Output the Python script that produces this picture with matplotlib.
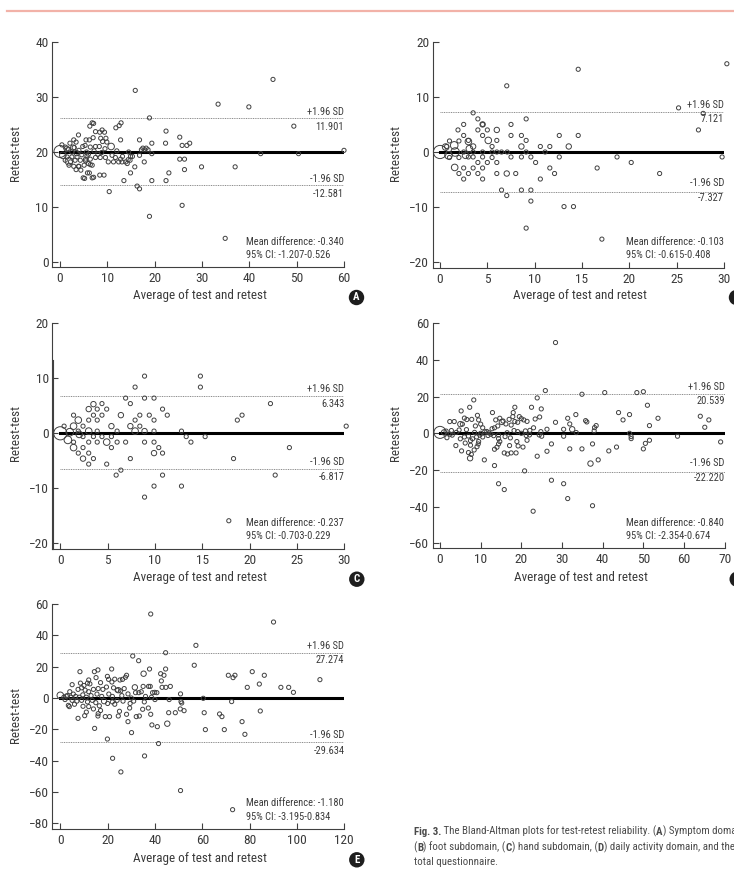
import numpy as np
import matplotlib
matplotlib.use("Agg")
import matplotlib.pyplot as plt
from matplotlib.lines import Line2D

plt.rcParams['font.family'] = ['Roboto Condensed', 'DejaVu Sans']

W, H = 734, 893
TXT = '#3a3a3a'
EDGE = '#404040'

# ---- data (x = average, y = retest-test) ----
a_points = [(45.0, 33.2), (15.9, 31.2), (33.4, 28.7), (39.9, 28.2), (18.9, 26.2), (49.4, 24.7),
            (6.3, 24.7), (6.8, 25.3), (12.9, 25.3), (12.5, 24.8), (11.8, 24.4), (22.4, 23.8),
            (25.3, 22.7), (16.8, 22.2), (12.8, 22.2), (22.3, 21.6), (19.4, 21.6), (27.4, 21.6),
            (26.8, 21.2), (25.8, 21.2), (17.5, 20.7), (18.2, 20.7), (42.4, 19.7), (50.4, 19.7),
            (60.0, 20.3), (19.4, 19.7), (25.3, 18.7), (26.3, 18.7), (29.9, 17.3), (37.0, 17.3),
            (26.3, 16.8), (23.0, 16.2), (17.8, 18.2), (14.9, 19.2), (14.4, 18.6), (13.9, 18.2),
            (15.8, 17.3), (14.9, 16.2), (13.5, 14.8), (19.4, 14.8), (22.4, 14.8), (16.3, 13.8),
            (16.8, 13.3), (10.4, 12.8), (25.8, 10.3), (18.9, 8.3), (34.9, 4.3),
            (4.9, 15.3), (5.8, 16.2), (6.8, 15.3), (8.4, 15.8), (9.3, 15.8), (3.4, 16.8),
            (3.9, 17.4), (6.4, 17.7), (5.4, 18.7), (7.1, 25.2), (3.9, 23.1), (7.5, 23.7),
            (8.9, 24.0), (8.4, 23.6), (9.4, 23.6), (5.5, 22.2), (6.2, 22.2), (2.9, 22.2),
            (3.4, 21.8), (2.1, 21.6), (8.6, 22.5), (9.7, 22.5), (9.0, 21.9), (9.9, 21.8),
            (7.0, 22.6), (7.5, 21.0), (8.3, 21.0), (5.3, 21.2), (0.4, 21.3), (1.1, 20.9),
            (17.2, 20.4), (17.9, 20.4), (18.6, 20.4), (1.5, 19.1), (2.5, 19.1), (3.6, 19.1),
            (4.6, 19.5), (5.7, 19.3), (1.1, 18.5), (2.2, 18.2), (3.2, 18.5), (4.3, 18.5),
            (5.4, 18.4), (6.4, 18.7), (7.5, 19.0), (8.5, 19.0), (9.6, 19.0), (1.9, 17.6),
            (2.9, 17.4), (4.0, 17.4), (5.1, 17.6), (6.8, 17.6), (4.4, 16.7), (6.0, 17.9),
            (11.0, 19.4), (11.7, 19.0), (12.8, 18.7), (10.2, 18.2), (11.3, 18.2), (12.4, 18.2),
            (13.1, 18.2), (14.8, 18.5), (15.3, 19.2), (14.2, 17.9), (13.2, 19.2), (16.8, 19.4),
            (5.2, 15.2), (7.1, 15.4), (6.2, 16.2), (2.5, 20.0), (4.0, 20.3), (5.6, 20.0),
            (7.2, 20.2), (8.8, 19.9), (12.0, 20.2), (14.5, 20.0), (3.0, 20.8), (4.8, 21.0),
            (6.4, 20.9), (9.5, 20.6), (1.8, 20.5), (6.0, 19.6), (8.0, 19.6)]
a_big = [(0.0, 20.1, 10), (0.6, 19.4, 3), (1.4, 20.6, 2), (1.9, 18.3, 4), (10.8, 21.0, 3),
         (3.5, 19.8, 2), (2.8, 20.8, 2)]

b_points = [(30.3, 16.0), (14.6, 15.0), (7.05, 12.0), (25.2, 8.0), (27.8, 7.0), (3.5, 7.1),
            (4.0, 6.0), (9.1, 6.0), (2.5, 5.0), (4.5, 5.0), (7.5, 5.0), (1.9, 4.0), (4.0, 4.0),
            (5.0, 4.0), (27.3, 4.0), (2.5, 3.0), (4.5, 3.0), (7.5, 3.0), (8.6, 3.0), (12.6, 3.0),
            (14.6, 3.0), (3.0, 2.1), (6.0, 2.1), (9.1, 2.1), (1.0, 2.0), (2.0, 2.0), (5.5, 1.0),
            (10.6, 1.0), (11.6, 1.0), (0.7, 1.0), (7.1, 0.0), (11.1, 0.0), (9.1, 0.0), (7.5, -0.9),
            (8.6, -0.9), (9.6, -0.9), (12.6, -0.9), (18.7, -0.9), (29.8, -0.9), (3.0, -0.9),
            (4.5, -0.9), (3.5, -0.9), (10.1, -1.9), (6.0, -1.9), (4.0, -1.9), (5.0, -1.9),
            (20.2, -1.9), (16.6, -2.9), (11.6, -2.9), (2.5, -2.9), (3.5, -2.9), (4.5, -2.9),
            (12.1, -3.9), (23.2, -3.9), (6.0, -3.9), (8.0, -3.9), (2.0, -3.9), (3.0, -3.9),
            (4.0, -3.9), (10.6, -4.9), (2.5, -4.9), (4.5, -4.9), (6.5, -6.9), (8.6, -6.9),
            (9.6, -6.9), (7.05, -7.9), (9.6, -8.9), (13.1, -9.9), (14.1, -9.9), (9.1, -13.8),
            (17.1, -15.8), (2.5, 0.0), (3.5, 0.0), (4.5, 0.0), (5.5, 0.0), (6.0, 0.0),
            (1.0, -1.0), (2.0, -1.0), (5.5, -1.0), (6.5, 0.0)]
b_big = [(0.0, 0.0, 12), (0.6, 0.9, 3), (1.5, 1.2, 4), (3.0, 1.9, 3), (3.1, 0.6, 3),
         (1.6, 0.0, 5), (0.9, -0.6, 4), (2.7, -0.6, 3), (1.55, -2.8, 3), (4.5, 5.0, 2),
         (6.0, 4.0, 2), (5.1, 2.1, 3), (7.05, -3.9, 2), (8.6, 1.0, 2), (3.5, 1.0, 2),
         (13.6, 1.0, 2)]

c_points = [(8.9, 10.4), (14.8, 10.4), (7.9, 8.4), (14.8, 8.4), (22.2, 5.4), (6.9, 6.4),
            (8.9, 6.4), (9.9, 6.4), (4.4, 5.4), (7.4, 5.4), (3.9, 4.4), (4.9, 4.4), (10.8, 4.4),
            (19.2, 3.3), (18.7, 2.4), (1.4, 3.3), (3.5, 3.3), (4.4, 3.3), (8.4, 3.3), (9.4, 3.3),
            (11.3, 3.3), (7.9, 2.4), (9.9, 2.4), (3.0, 2.4), (3.9, 2.4), (8.4, 1.3), (0.4, 1.3),
            (2.4, 1.3), (30.2, 1.3), (9.9, 0.4), (12.8, 0.4), (6.0, 0.4), (3.9, 0.4), (1.9, 0.4),
            (13.3, -0.6), (15.3, -0.6), (2.4, -0.6), (3.5, -0.6), (4.4, -0.6), (5.4, -0.6),
            (13.8, -1.6), (1.4, -1.6), (3.0, -1.6), (3.9, -1.6), (6.0, -1.6), (6.9, -1.6),
            (8.9, -1.6), (9.9, -1.6), (10.4, -2.6), (2.4, -2.6), (5.4, -2.6), (24.2, -2.6),
            (10.8, -3.6), (1.9, -3.6), (3.0, -3.6), (3.5, -4.6), (7.4, -4.6), (18.3, -4.6),
            (3.0, -5.6), (4.9, -5.6), (6.4, -6.7), (5.9, -7.6), (10.8, -7.6), (22.7, -7.6),
            (9.9, -9.6), (12.8, -9.6), (8.9, -11.6), (17.8, -15.9)]
c_big = [(0.0, 0.0, 12), (0.8, -1.2, 4), (1.0, 0.2, 4), (3.5, 5.3, 2), (3.0, 4.4, 2),
         (6.4, 3.3, 2), (1.9, 2.4, 3), (5.4, 1.3, 2), (7.4, 1.3, 2), (1.4, 1.3, 3),
         (7.9, 0.4, 3), (8.9, 0.4, 2), (3.0, 0.4, 3), (4.9, -1.6, 3), (1.4, -2.6, 3),
         (9.9, -3.6, 2), (2.4, -4.6, 2), (2.0, -0.2, 3)]

d_points = [(28.4, 49.5), (25.9, 23.3), (34.9, 21.3), (40.5, 22.2), (48.4, 22.2), (50.0, 22.7),
            (8.3, 18.2), (23.9, 19.3), (22.5, 14.2), (24.9, 13.3), (18.4, 14.2), (7.3, 14.2),
            (51.0, 15.3), (5.2, 12.2), (12.9, 11.3), (18.0, 11.3), (43.9, 11.3), (33.4, 10.2),
            (46.6, 10.2), (64.0, 9.3), (66.1, 7.3), (65.1, 3.3), (45.0, 7.3), (53.6, 8.2),
            (51.5, 4.2), (31.4, 8.2), (35.8, 6.9), (36.1, 6.2), (31.9, 5.1), (38.4, 4.2),
            (38.0, 3.1), (37.9, 1.3), (28.4, 6.0), (26.3, 2.2), (30.4, 2.2), (33.5, 0.4),
            (19.5, 9.1), (20.0, 8.0), (20.6, 7.3), (21.4, 6.5), (19.1, 6.0), (13.7, 7.3),
            (14.7, 8.2), (15.5, 6.7), (17.0, 7.6), (17.9, 9.1), (18.4, 6.4), (16.2, 5.1),
            (17.5, 4.5), (18.2, 1.5), (19.1, 0.9), (21.0, 1.3), (22.1, 1.6), (13.4, 3.0),
            (14.2, 4.0), (12.8, 2.5), (11.5, 1.0), (10.5, 3.0), (10.0, 5.0), (9.5, 7.3),
            (9.2, 9.8), (8.7, 4.0), (6.0, 8.3), (6.6, 7.5), (5.5, 5.0), (3.5, 6.4), (2.4, 6.4),
            (7.8, 7.6), (4.7, 1.8), (2.8, 1.5), (1.5, 1.2), (6.5, 2.0), (23.4, 7.8), (24.5, 8.9),
            (23.0, 3.0), (3.9, -6.7), (1.7, -2.4), (5.3, -9.6), (8.4, -9.1), (9.1, -7.3),
            (9.5, -4.5), (10.9, -14.5), (7.0, -10.5), (7.7, -11.5), (13.4, -8.7), (14.0, -7.6),
            (15.8, -10.7), (16.6, -11.3), (17.5, -10.7), (18.7, -10.7), (17.1, -6.7),
            (18.9, -4.5), (19.2, -6.9), (20.4, -7.5), (21.4, -3.8), (22.0, -0.9), (23.9, -12.5),
            (26.3, -9.8), (27.4, -5.8), (24.4, -0.9), (24.8, 0.9), (25.0, -1.6), (30.4, -1.6),
            (31.9, -8.5), (34.9, -8.5), (37.5, -5.8), (38.9, -14.5), (41.5, -9.6), (43.4, -7.5),
            (47.0, -1.8), (47.0, -2.9), (46.6, 0.0), (50.0, -8.5), (50.5, -5.5), (51.5, -3.8),
            (58.4, -1.6), (69.0, -4.7), (20.8, -20.5), (13.4, -17.6), (14.4, -27.5),
            (15.8, -30.7), (27.4, -25.6), (30.4, -27.5), (31.4, -35.6), (22.9, -42.5),
            (37.5, -39.5), (13.2, -1.3), (14.4, -0.9), (14.7, -4.5), (14.4, -2.9), (14.4, -5.8),
            (3.0, -1.0), (5.0, -3.0), (6.0, -2.0), (7.0, -1.5), (7.5, -4.0), (8.0, -3.0),
            (9.0, -2.0), (9.8, -1.0), (10.5, -2.0), (11.8, -1.2), (12.5, -0.5), (16.0, -1.8),
            (17.3, -2.5), (6.2, -5.3), (7.5, -6.5), (9.4, -5.8), (2.5, -0.5), (4.0, 0.5),
            (8.5, 0.5), (10.0, 0.0), (11.0, 0.8), (12.0, 0.3), (16.5, 0.3), (20.0, 0.0),
            (21.2, -1.2)]
d_big = [(0.0, 0.5, 10), (7.4, -13.6, 2), (15.2, 6.2, 2), (37.0, -16.5, 2), (32.5, 2.2, 2),
         (5.0, 5.0, 2), (1.0, 0.5, 2)]

e_points = [(38.2, 53.6), (90.1, 48.5), (57.3, 33.6), (44.5, 28.9), (30.6, 26.8), (33.1, 23.8),
            (56.6, 20.9), (8.3, 16.8), (14.4, 16.8), (15.9, 17.9), (21.7, 18.5), (37.7, 18.5),
            (44.5, 18.5), (42.4, 15.5), (43.8, 14.5), (71.0, 14.5), (73.0, 13.0), (73.8, 14.5),
            (81.1, 16.8), (86.2, 14.5), (109.7, 11.7), (15.1, 13.0), (19.9, 13.8), (20.4, 11.9),
            (21.8, 10.2), (27.5, 13.2), (26.3, 11.9), (25.2, 11.5), (42.7, 10.9), (43.0, 6.8),
            (46.5, 7.4), (44.6, 6.8), (38.0, 7.4), (37.3, 7.4), (35.0, 7.4), (96.5, 6.8),
            (93.2, 6.8), (98.5, 3.6), (84.1, 8.9), (79.0, 6.8), (31.8, 3.4), (33.2, 3.4),
            (34.2, 4.0), (39.0, 3.4), (39.9, 3.6), (40.8, 3.4), (50.8, 2.6), (28.6, 2.6),
            (8.5, 9.5), (10.0, 8.0), (11.5, 9.5), (12.5, 9.0), (7.5, 5.5), (9.0, 6.5),
            (10.5, 5.0), (12.0, 4.0), (14.0, 5.5), (16.0, 6.0), (18.0, 5.5), (19.5, 7.0),
            (22.5, 6.5), (24.0, 5.0), (25.5, 4.5), (27.0, 6.0), (5.0, 8.5), (4.0, 4.0),
            (5.5, 2.5), (3.0, 1.5), (6.5, 1.0), (9.5, 2.0), (13.0, 1.5), (15.5, 2.5),
            (17.5, 1.0), (20.5, 2.5), (22.0, 1.0), (26.0, 1.5), (1.5, 0.5), (2.5, 1.2),
            (4.5, 0.5), (8.0, 0.5), (11.0, 0.5), (36.0, 1.0), (38.5, 0.5), (30.0, 0.0),
            (12.0, 11.5), (23.0, 12.0), (28.0, 14.5), (17.0, 9.8), (29.5, -3.5),
            (51.0, -2.3), (51.3, -3.2), (60.4, -0.2), (72.4, -2.3), (52.3, -8.1), (50.7, -7.0),
            (60.8, -9.4), (45.8, -9.4), (48.6, -9.4), (37.2, -6.4), (34.8, -7.2), (38.2, -10.4),
            (29.3, -6.4), (28.0, -10.4), (32.1, -11.9), (33.4, -11.5), (24.5, -11.5),
            (20.8, -11.9), (19.0, -11.9), (15.9, -11.5), (67.3, -10.2), (68.3, -11.9),
            (84.5, -8.3), (61.3, -20.2), (69.3, -20.2), (76.8, -15.1), (78.0, -23.2),
            (41.0, -18.3), (38.7, -17.2), (28.6, -15.1), (30.1, -22.1), (14.5, -19.4),
            (19.9, -26.2), (41.5, -29.1), (22.1, -38.5), (35.6, -37.0), (25.6, -47.2),
            (50.8, -59.1), (72.8, -71.3), (7.5, -13.0), (10.3, -11.3), (9.6, -5.3), (3.4, -4.7),
            (3.8, -5.5), (2.0, -1.0), (5.0, -1.5), (7.0, -2.0), (9.0, -1.5), (11.5, -2.5),
            (13.5, -1.5), (15.0, -3.0), (16.5, -5.0), (12.0, -5.5), (14.0, -7.0), (17.0, -8.0),
            (20.0, -3.5), (22.0, -2.5), (24.0, -1.5), (26.5, -2.0), (23.0, -4.0), (6.0, -4.0),
            (11.0, -9.0), (16.0, -10.0), (25.0, -8.5), (35.5, -2.5), (40.0, -1.0), (31.0, -2.0),
            (46.0, -1.0)]
e_big = [(0.0, 1.7, 3), (31.5, 6.8, 2), (35.2, 15.5, 2), (45.2, -16.4, 2), (24.5, 5.0, 2),
         (18.5, -2.0, 2)]

# mean / limits lines as drawn, and the printed labels
mean_lines = [20.0, 0.0, 0.0, 0.0, 0.0]
sd_upper = [26.1, 7.2, 6.8, 21.2, 28.9]
sd_lower = [14.0, -7.3, -6.5, -20.9, -28.1]
upper_labels = ['11.901', '7.121', '6.343', '20.539', '27.274']
lower_labels = ['-12.581', '-7.327', '-6.817', '-22.220', '-29.634']
mean_labels = ['Mean difference: -0.340', 'Mean difference: -0.103', 'Mean difference: -0.237',
               'Mean difference: -0.840', 'Mean difference: -1.180']
ci_labels = ['95% CI: -1.207-0.526', '95% CI: -0.615-0.408', '95% CI: -0.703-0.229',
             '95% CI: -2.354-0.674', '95% CI: -3.195-0.834']
panel_letters = ['A', 'B', 'C', 'D', 'E']
x_ticks = [range(0, 61, 10), range(0, 31, 5), range(0, 31, 5), range(0, 71, 10), range(0, 121, 20)]
y_ticks = [range(0, 41, 10), range(-20, 21, 10), range(-20, 21, 10), range(-60, 61, 20),
           range(-80, 61, 20)]
x_max = [60, 30, 30, 70, 120]
y_max = [40, 20, 20, 60, 60]
y_min = [0, -20, -20, -60, -80]


def fx(px):
    return px / W


def fy(py):
    return 1 - py / H


fig = plt.figure(figsize=(W / 100, H / 100), dpi=100)
fig.patch.set_facecolor('white')

# pixel layout: left spine, right end, top, bottom spine, pixel of data x=0, pixel of y=min
boxes = [(52, 344, 42, 267, 60, 262),
         (432.7, 724, 41.7, 267.7, 440, 262.3),
         (52.3, 344.3, 323.3, 549.3, 60.3, 543.3),
         (432.7, 724.7, 323.3, 548.3, 440, 543.3),
         (52.3, 344.3, 604, 829.3, 60.3, 823.3)]
# label rows: (+SD text, +value, -SD text, -value, mean, ci, xlabel, ylabel y)
label_rows = [(112.3, 126.7, 179, 194, 241.7, 255, 296, 153),
              (105.3, 119.3, 182.7, 197.7, 241.7, 255, 296, 153),
              (389.3, 403.7, 462, 476.7, 522.7, 536, 577.7, 433),
              (386.7, 400.7, 463.3, 478.3, 522.7, 536, 577.7, 433),
              (645.7, 660.3, 735.3, 750.7, 803.3, 816.7, 858.3, 715)]
all_points = [a_points, b_points, c_points, d_points, e_points]
all_big = [a_big, b_big, c_big, d_big, e_big]

for i in range(5):
    l, r, t, b, x0px, ybpx = boxes[i]
    ax = fig.add_axes([fx(l), fy(b), (r - l) / W, (b - t) / H])
    xs = (r - x0px) / x_max[i]
    ys = (ybpx - t) / (y_max[i] - y_min[i])
    ax.set_xlim(-(x0px - l) / xs, x_max[i])
    ax.set_ylim(y_min[i] - (b - ybpx) / ys, y_max[i])
    for s in ['top', 'right']:
        ax.spines[s].set_visible(False)
    for s in ['left', 'bottom']:
        ax.spines[s].set_color(EDGE)
        ax.spines[s].set_linewidth(0.8)
    ax.set_xticks(list(x_ticks[i]))
    ax.set_yticks(list(y_ticks[i]))
    ax.tick_params(direction='in', length=4, width=0.8, color=EDGE, labelcolor=TXT,
                   labelsize=9.6)
    ax.tick_params(axis='y', pad=2.5)
    ax.tick_params(axis='x', pad=3.5)

    px, py = zip(*all_points[i])
    ax.scatter(px, py, s=9, facecolors='none', edgecolors=EDGE, linewidths=0.7,
               clip_on=False, zorder=3)
    bx, by, bn = zip(*all_big[i])
    ax.scatter(bx, by, s=[7.5 * n for n in bn], facecolors='none', edgecolors=EDGE,
               linewidths=0.7, clip_on=False, zorder=3)

    ax.plot([0, x_max[i]], [mean_lines[i]] * 2, color='black', lw=2.2, zorder=2)
    for v in (sd_upper[i], sd_lower[i]):
        ax.plot([0, x_max[i]], [v, v], color='#8a8a8a', lw=0.7, ls=(0, (1, 0.8)), zorder=1)

    up1, up2, lo1, lo2, mrow, crow, xl_y, yl_y = label_rows[i]
    fs = 7.5
    fig.text(fx(r), fy(up1), '+1.96 SD', ha='right', va='center', fontsize=fs, color=TXT)
    fig.text(fx(r), fy(up2), upper_labels[i], ha='right', va='center', fontsize=fs, color=TXT)
    fig.text(fx(r), fy(lo1), '-1.96 SD', ha='right', va='center', fontsize=fs, color=TXT)
    fig.text(fx(r), fy(lo2), lower_labels[i], ha='right', va='center', fontsize=fs, color=TXT)
    tx = l + 193.5
    fig.text(fx(tx), fy(mrow), mean_labels[i], ha='left', va='center', fontsize=fs, color=TXT)
    fig.text(fx(tx), fy(crow), ci_labels[i], ha='left', va='center', fontsize=fs, color=TXT)

    fig.text(fx((l + r) / 2 + 2), fy(xl_y), 'Average of test and retest', ha='center',
             va='center', fontsize=9.4, color=TXT)
    fig.text(fx(l - 37), fy(yl_y), 'Retest-test', ha='center', va='center', rotation=90,
             fontsize=9.4, color=TXT)
    fig.text(fx(r + 12.5), fy(xl_y + 1.5), panel_letters[i], ha='center', va='center',
             fontsize=7.8, color='white', weight='bold',
             bbox=dict(boxstyle='circle,pad=0.25', fc='#1e1e1e', ec='none'))

# doubled spine segment on panel C
fig.add_artist(Line2D([fx(53.4)] * 2, [fy(360), fy(549.3)], color=EDGE, lw=0.8))

# red rule at the top of the page
fig.add_artist(Line2D([fx(7), 1], [fy(11)] * 2, color='#f2b2a8', lw=1.6))

# caption with bold pieces
cap = fig.add_axes([0, 0, 1, 1], facecolor='none')
cap.set_axis_off()
lines = [[('Fig. 3.', 'bold'), (' The Bland-Altman plots for test-retest reliability. (', 'normal'),
          ('A', 'bold'), (') Symptom domain,', 'normal')],
         [('(', 'normal'), ('B', 'bold'), (') foot subdomain, (', 'normal'), ('C', 'bold'),
          (') hand subdomain, (', 'normal'), ('D', 'bold'), (') daily activity domain, and the', 'normal')],
         [('total questionnaire.', 'normal')]]
for k, parts in enumerate(lines):
    prev = None
    for txt, wt in parts:
        if prev is None:
            prev = cap.text(fx(413.7), fy(832 + 15 * k), txt, ha='left', va='center',
                            fontsize=7.8, color='#4a4a4a', weight=wt, transform=cap.transAxes)
        else:
            prev = cap.annotate(txt, xycoords=prev, xy=(1, 0), va='bottom', ha='left',
                                fontsize=7.8, color='#4a4a4a', weight=wt)

fig.savefig('out.png', dpi=100, facecolor='white')
